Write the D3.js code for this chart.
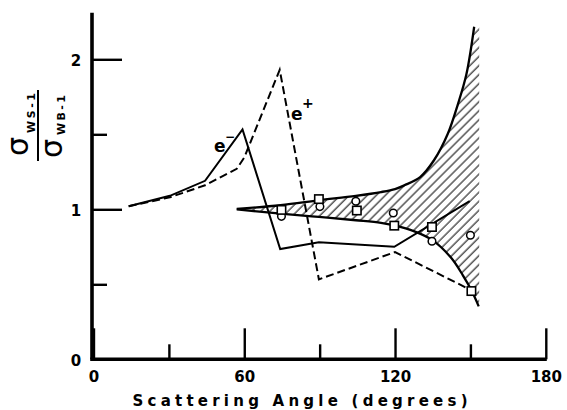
<!DOCTYPE html>
<html><head><meta charset="utf-8">
<script src="https://cdn.jsdelivr.net/npm/d3@7"></script>
<style>body{margin:0;background:#fff}</style>
</head><body>
<svg id="c" width="567" height="410"></svg>
<script>
// ---- data ----
const xMajorTicks = [0, 60, 120, 180];
const xMinorTicks = [30, 90, 150];
const yMajorTicks = [0, 1, 2];
const yMinorTicks = [0.5, 1.5];
const eMinus = [[14,1.02],[30.4,1.09],[44.4,1.19],[59.3,1.533],[74.3,0.735],[89.7,0.78],[119.7,0.75],[149.7,1.055]];
const ePlus  = [[14,1.02],[30.4,1.08],[44.4,1.16],[57,1.27],[60,1.345],[74.1,1.93],[89.7,0.533],[120,0.715],[150.4,0.46]];
const bandUpper = [[57,1.003],[74.4,1.027],[89.7,1.06],[104.4,1.09],[114.4,1.115],[120,1.135],[123.7,1.16],[130,1.215],[135.5,1.327],[141,1.504],[145,1.70],[148.4,1.90],[151.5,2.217]];
const bandLower = [[57,1.0],[74.4,0.971],[89.7,0.949],[104.4,0.927],[114.4,0.91],[119.7,0.893],[127.7,0.853],[135,0.793],[142.4,0.675],[147,0.56],[150.4,0.46],[153.3,0.353]];
const bandRightEdge = 153.5;
const circles = [[74.8,0.953],[90.1,1.018],[104.4,1.054],[119.3,0.975],[134.7,0.787],[150,0.827]];
const squares = [[74.8,0.996],[89.7,1.068],[104.8,0.992],[119.7,0.891],[134.7,0.882],[150.4,0.455]];
const xTitle = "Scattering Angle (degrees)";

// ---- scales ----
const svg = d3.select("#c");
const x = d3.scaleLinear([0, 180], [93.5, 545.8]);
const yTop = 2.31;
const y = d3.scaleLinear([0, yTop], [359.3, 359.3 - yTop * 150]);
const font = "'DejaVu Sans', sans-serif";

// hatch pattern
const defs = svg.append("defs");
const pat = defs.append("pattern").attr("id","hatch").attr("patternUnits","userSpaceOnUse")
  .attr("width",6.4).attr("height",10).attr("patternTransform","rotate(45)");
pat.append("line").attr("x1",1).attr("y1",-1).attr("x2",1).attr("y2",11)
  .attr("stroke","#000").attr("stroke-width",1.0);

// ---- hatched band ----
const line = d3.line().x(d => x(d[0])).y(d => y(d[1])).curve(d3.curveCatmullRom.alpha(0.5));
const up = line(bandUpper);
const loRev = line(bandLower.slice().reverse()).replace(/^M/, "L");
const uLast = bandUpper[bandUpper.length-1], lLast = bandLower[bandLower.length-1];
const bandPath = up + `L${x(bandRightEdge)},${y(uLast[1])}L${x(bandRightEdge)},${y(lLast[1])}` + loRev + "Z";
svg.append("path").attr("d", bandPath).attr("fill","url(#hatch)").attr("stroke","none");
svg.append("path").attr("d", line(bandUpper)).attr("fill","none").attr("stroke","#000").attr("stroke-width",2.3);
svg.append("path").attr("d", line(bandLower)).attr("fill","none").attr("stroke","#000").attr("stroke-width",2.3);

// ---- e- / e+ lines ----
const lin = d3.line().x(d => x(d[0])).y(d => y(d[1]));
svg.append("path").attr("d", lin(eMinus)).attr("fill","none").attr("stroke","#000")
  .attr("stroke-width",2).attr("stroke-linejoin","miter");
svg.append("path").attr("d", lin(ePlus)).attr("fill","none").attr("stroke","#000")
  .attr("stroke-width",2).attr("stroke-dasharray","8,4");

// ---- markers ----
svg.append("g").selectAll("circle").data(circles).join("circle")
  .attr("cx", d => x(d[0])).attr("cy", d => y(d[1])).attr("r", 3.8)
  .attr("fill","#fff").attr("stroke","#000").attr("stroke-width",1.5);
svg.append("g").selectAll("rect").data(squares).join("rect")
  .attr("x", d => x(d[0]) - 4.2).attr("y", d => y(d[1]) - 4.2).attr("width", 8.4).attr("height", 8.4)
  .attr("fill","#fff").attr("stroke","#000").attr("stroke-width",1.6);

// ---- axes ----
const gx = svg.append("g").attr("transform", `translate(0,${y(0)})`)
  .call(d3.axisBottom(x).tickValues(xMajorTicks).tickSize(-31).tickSizeOuter(0).tickPadding(12).tickFormat(d3.format("d")));
const gxm = svg.append("g").attr("transform", `translate(0,${y(0)})`)
  .call(d3.axisBottom(x).tickValues(xMinorTicks).tickSize(-15).tickSizeOuter(0).tickFormat(""));
const gy = svg.append("g").attr("transform", `translate(${x(0)-1.5},0)`)
  .call(d3.axisLeft(y).tickValues(yMajorTicks).tickSize(-30).tickSizeOuter(0).tickPadding(11).tickFormat(d3.format("d")));
const gym = svg.append("g").attr("transform", `translate(${x(0)-1.5},0)`)
  .call(d3.axisLeft(y).tickValues(yMinorTicks).tickSize(-15).tickSizeOuter(0).tickFormat(""));
[gx, gxm, gy, gym].forEach(g => {
  g.selectAll(".domain").remove();
  g.selectAll(".tick line").attr("stroke","#000").attr("stroke-width",2.4);
  g.selectAll(".tick text").attr("font-family", font).attr("font-size", 15).attr("font-weight","bold").attr("fill","#000");
});
gy.selectAll(".tick text").attr("text-anchor","middle").attr("x", -16).attr("dy","0.4em");
// axis lines
svg.append("line").attr("x1", x(0)-3.3).attr("x2", x(180)+1).attr("y1", y(0)).attr("y2", y(0))
  .attr("stroke","#000").attr("stroke-width",3.6);
svg.append("line").attr("x1", x(0)-1.5).attr("x2", x(0)-1.5).attr("y1", y(0)).attr("y2", y(yTop))
  .attr("stroke","#000").attr("stroke-width",3.6);

// ---- x title ----
svg.append("text").attr("x", 300).attr("y", 406).attr("text-anchor","middle")
  .attr("font-family", font).attr("font-size", 15).attr("font-weight","bold")
  .attr("textLength", 335).attr("lengthAdjust","spacing").text(xTitle);

// ---- y title: fraction rotated ----
const yl = svg.append("g").attr("transform","translate(38,125) rotate(-90)")
  .attr("font-family", font).attr("font-weight","bold").attr("fill","#000");
yl.append("line").attr("x1",-36).attr("x2",35).attr("y1",0).attr("y2",0).attr("stroke","#000").attr("stroke-width",2);
yl.append("text").attr("x",-31).attr("y",-10).attr("font-size",30).attr("font-weight","normal").text("σ");
yl.append("text").attr("x",-8).attr("y",-3).attr("font-size",11).attr("textLength",40).attr("lengthAdjust","spacing").text("WS-1");
yl.append("text").attr("x",-33).attr("y",24).attr("font-size",30).attr("font-weight","normal").text("σ");
yl.append("text").attr("x",-10).attr("y",27).attr("font-size",11).attr("textLength",40).attr("lengthAdjust","spacing").text("WB-1");

// ---- curve labels ----
svg.append("text").attr("x",214).attr("y",152).attr("font-family",font).attr("font-size",17).attr("font-weight","bold").text("e");
svg.append("text").attr("x",225).attr("y",141).attr("font-family",font).attr("font-size",12).attr("font-weight","bold").text("−");
svg.append("text").attr("x",291).attr("y",120).attr("font-family",font).attr("font-size",17).attr("font-weight","bold").text("e");
svg.append("text").attr("x",302).attr("y",108).attr("font-family",font).attr("font-size",14).attr("font-weight","bold").text("+");
</script>
</body></html>
